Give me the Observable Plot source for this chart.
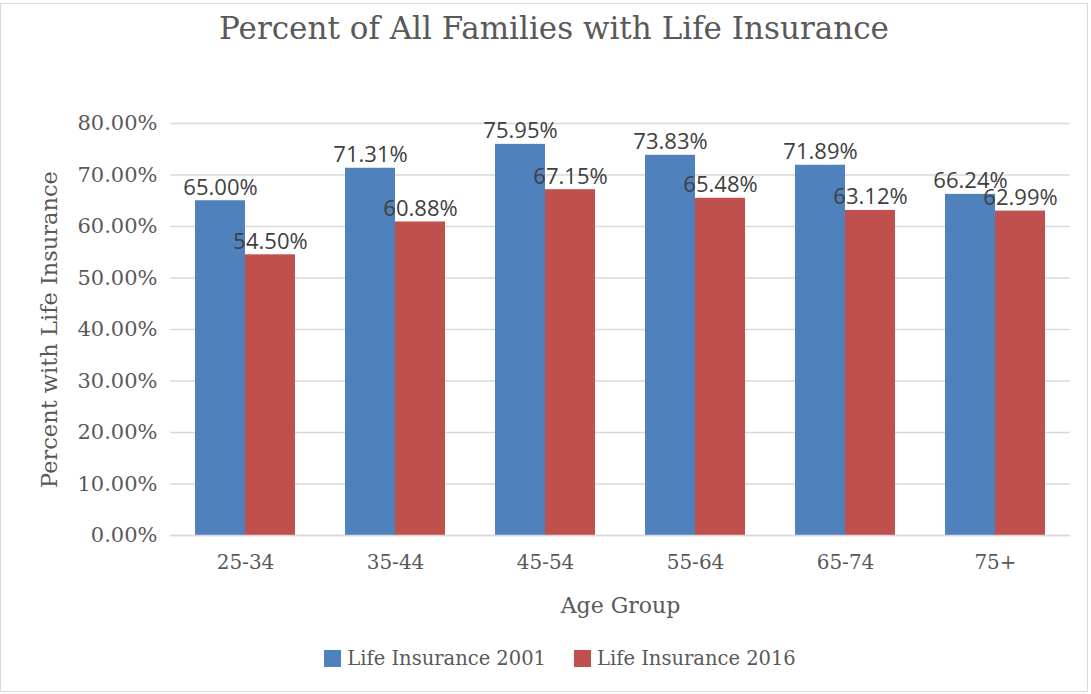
<!DOCTYPE html>
<html>
<head>
<meta charset="utf-8">
<script src="https://cdn.jsdelivr.net/npm/d3@7"></script>
<script src="https://cdn.jsdelivr.net/npm/@observablehq/plot@0.6"></script>
<style>
  html, body { margin: 0; padding: 0; background: #fff; }
  #wrap { position: relative; width: 1091px; height: 694px; overflow: hidden; }
  #frame { position: absolute; left: 0; top: 3px; width: 1088px; height: 689px; border: 1px solid #d9d9d9; box-sizing: border-box; pointer-events: none; }
  #title { height: 58px; line-height: 56px; text-align: center; font-family: "DejaVu Serif", serif; font-size: 31px; color: #595959; white-space: nowrap; padding-left: 17px; }
  #chart svg { display: block; }
  #legend { height: 56px; display: flex; justify-content: center; align-items: center; gap: 28px; font-family: "DejaVu Serif", serif; font-size: 19.5px; color: #595959; padding-left: 29px; }
  .item { display: flex; align-items: center; gap: 6px; }
  .sw { width: 17px; height: 17px; display: inline-block; }
</style>
</head>
<body>
<div id="wrap">
  <div id="frame"></div>
  <div id="title">Percent of All Families with Life Insurance</div>
  <div id="chart"></div>
  <div id="legend"></div>
</div>
<script>
const ages = ["25-34", "35-44", "45-54", "55-64", "65-74", "75+"];
const series = ["Life Insurance 2001", "Life Insurance 2016"];
const values2001 = [65.00, 71.31, 75.95, 73.83, 71.89, 66.24];
const values2016 = [54.50, 60.88, 67.15, 65.48, 63.12, 62.99];
const yTicks = [0, 10, 20, 30, 40, 50, 60, 70, 80];
const colors = ["#4F81BD", "#C0504D"];

const data = ages.flatMap((a, i) => [
  {age: a, series: series[0], value: values2001[i]},
  {age: a, series: series[1], value: values2016[i]}
]);
const pct = d => d.toFixed(2) + "%";

const chart = Plot.plot({
  width: 1091,
  height: 572,
  marginTop: 65,
  marginBottom: 95,
  marginLeft: 170,
  marginRight: 21,
  style: {fontFamily: "'DejaVu Serif', serif", fontSize: "20px", color: "#595959", background: "transparent"},
  fx: {domain: ages, padding: 0, axis: null},
  x: {domain: series, paddingInner: 0, paddingOuter: 0.5, axis: null},
  y: {domain: [0, 80]},
  color: {domain: series, range: colors},
  marks: [
    Plot.gridY(yTicks, {stroke: "#d9d9d9", strokeOpacity: 1, strokeWidth: 1.5}),
    Plot.axisY(yTicks, {tickSize: 0, tickPadding: 13, tickFormat: pct, fontSize: 21,
      label: "Percent with Life Insurance", labelAnchor: "center", labelArrow: "none", labelOffset: 129}),
    Plot.barY(data, {fx: "age", x: "series", y: "value", fill: "series"}),
    Plot.ruleY([0], {stroke: "#d9d9d9", strokeWidth: 1.5}),
    Plot.text(data, {fx: "age", x: "series", y: "value", text: d => pct(d.value),
      lineAnchor: "bottom", dy: -6, fill: "#404040", fontSize: 22, fontFamily: "'Open Sans', sans-serif"}),
    Plot.axisFx({anchor: "bottom", tickSize: 0, tickPadding: 19, fontSize: 20,
      label: "Age Group", labelAnchor: "center", labelArrow: "none", labelOffset: 77})
  ]
});
document.getElementById("chart").appendChild(chart);
const yl = chart.querySelector('[aria-label="y-axis label"]');
if (yl) yl.setAttribute("font-size", 22.5);
const xl = chart.querySelector('[aria-label="fx-axis label"]');
if (xl) xl.setAttribute("font-size", 22);

const legend = document.getElementById("legend");
series.forEach((s, i) => {
  const it = document.createElement("span");
  it.className = "item";
  const sw = document.createElement("span");
  sw.className = "sw";
  sw.style.background = colors[i];
  it.appendChild(sw);
  it.appendChild(document.createTextNode(s));
  legend.appendChild(it);
});
</script>
</body>
</html>
